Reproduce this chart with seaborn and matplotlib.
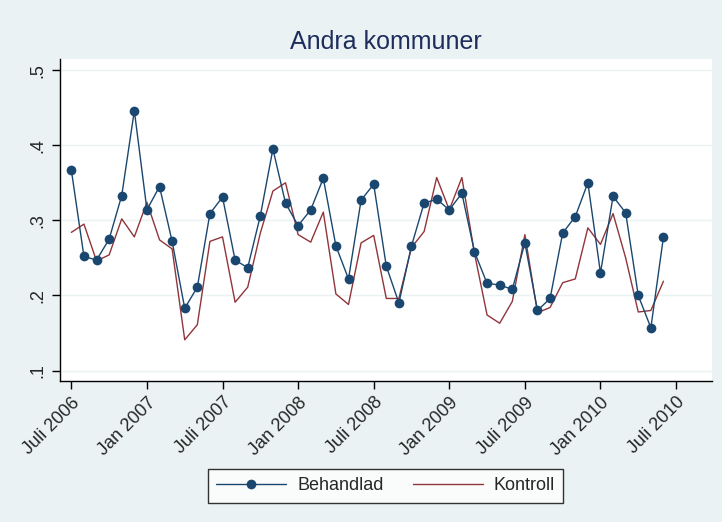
import numpy as np
import pandas as pd
import matplotlib
matplotlib.use("Agg")
import matplotlib.pyplot as plt
import seaborn as sns
from matplotlib.lines import Line2D

# Monthly series, Juli 2006 - Juni 2010
behandlad = [0.367, 0.252, 0.247, 0.275, 0.333, 0.446, 0.314, 0.345, 0.272, 0.183,
             0.211, 0.309, 0.331, 0.247, 0.237, 0.306, 0.395, 0.323, 0.293, 0.314,
             0.356, 0.266, 0.222, 0.327, 0.348, 0.239, 0.190, 0.266, 0.323, 0.328,
             0.314, 0.336, 0.258, 0.216, 0.214, 0.208, 0.270, 0.180, 0.196, 0.283,
             0.305, 0.350, 0.230, 0.332, 0.310, 0.200, 0.157, 0.278]
kontroll = [0.284, 0.295, 0.246, 0.254, 0.302, 0.278, 0.324, 0.274, 0.262, 0.141,
            0.161, 0.272, 0.278, 0.191, 0.211, 0.283, 0.339, 0.350, 0.281, 0.271,
            0.311, 0.202, 0.188, 0.270, 0.280, 0.196, 0.196, 0.264, 0.285, 0.357,
            0.314, 0.357, 0.256, 0.174, 0.163, 0.192, 0.281, 0.177, 0.184, 0.217,
            0.222, 0.290, 0.268, 0.309, 0.250, 0.178, 0.180, 0.219]
x_ticks = [0, 6, 12, 18, 24, 30, 36, 42, 48]
x_labels = ["Juli 2006", "Jan 2007", "Juli 2007", "Jan 2008", "Juli 2008",
            "Jan 2009", "Juli 2009", "Jan 2010", "Juli 2010"]
y_ticks = [0.1, 0.2, 0.3, 0.4, 0.5]
y_labels = [".1", ".2", ".3", ".4", ".5"]

df = pd.DataFrame({"month": np.arange(len(behandlad)),
                   "Behandlad": behandlad, "Kontroll": kontroll})

bg = "#EAF2F3"
blue = "#1a476f"
red = "#90353b"

sns.set_theme(style="white")
plt.rcParams["font.family"] = ["Liberation Sans", "DejaVu Sans"]

fig = plt.figure(figsize=(7.22, 5.22), dpi=100, facecolor=bg)
ax = fig.add_axes([0.0831, 0.2692, 0.9030, 0.6175])
ax.set_facecolor("white")

sns.lineplot(data=df, x="month", y="Kontroll", color=red, linewidth=1.0, ax=ax)
sns.lineplot(data=df, x="month", y="Behandlad", color=blue, linewidth=1.0,
             marker="o", markersize=7, markeredgewidth=0, ax=ax)

ax.set_xlim(-0.9, 50.85)
ax.set_ylim(0.0855, 0.5146)
ax.set_xticks(x_ticks)
ax.set_xticklabels(x_labels, rotation=45, ha="right", rotation_mode="anchor",
                   fontsize=13)
ax.set_yticks(y_ticks)
ax.set_yticklabels(y_labels, rotation=90, va="center", fontsize=13)
ax.tick_params(axis="x", bottom=True, direction="out", length=6, width=1,
               color="black", pad=3)
ax.tick_params(axis="y", left=True, direction="out", length=6, width=1,
               color="black", pad=4)
ax.grid(axis="y", color=bg, linewidth=1)
ax.set_xlabel("")
ax.set_ylabel("")
for s in ["top", "right"]:
    ax.spines[s].set_visible(False)
for s in ["left", "bottom"]:
    ax.spines[s].set_color("black")
    ax.spines[s].set_linewidth(1)

ax.set_title("Andra kommuner", fontsize=18, color="#1e2d5c", pad=7)

handles = [Line2D([], [], color=blue, linewidth=1.0, marker="o", markersize=7,
                  markeredgewidth=0),
           Line2D([], [], color=red, linewidth=1.0)]
leg = fig.legend(handles, ["Behandlad", "Kontroll"], loc="center",
                 bbox_to_anchor=(385.5 / 722, 1 - 486 / 522), ncol=2,
                 fontsize=13, frameon=True, fancybox=False, handlelength=3.9,
                 columnspacing=1.6, handletextpad=0.6, borderpad=0.45)
leg.get_frame().set_edgecolor("black")
leg.get_frame().set_linewidth(1)
leg.get_frame().set_facecolor("white")

fig.savefig("out.png", dpi=100, facecolor=bg)
